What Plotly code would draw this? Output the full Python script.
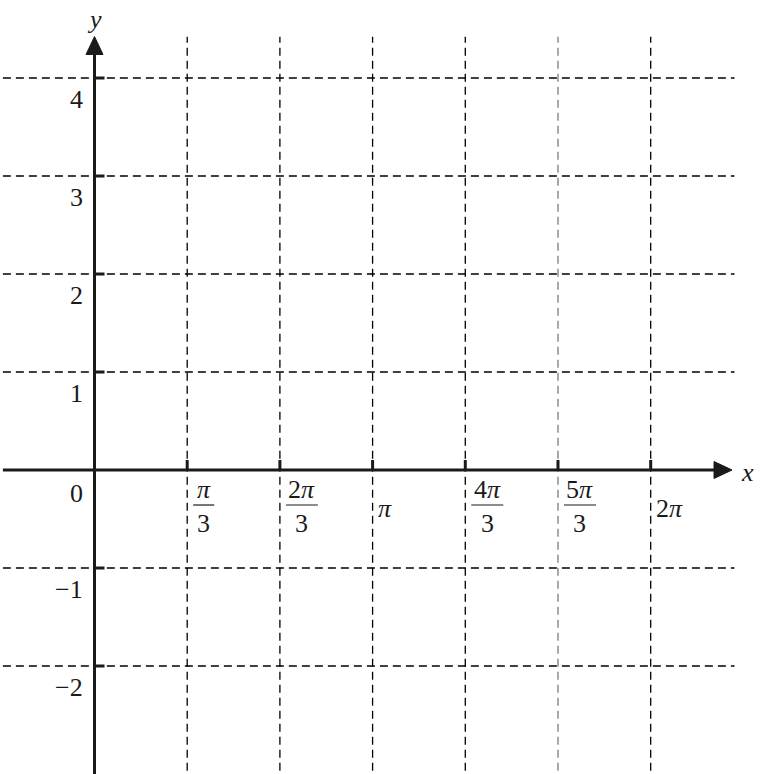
import math
import plotly.graph_objects as go

# ---------------------------------------------------------------
# data: tick positions and labels
# ---------------------------------------------------------------
X_TICKS = [math.pi / 3, 2 * math.pi / 3, math.pi, 4 * math.pi / 3, 5 * math.pi / 3, 2 * math.pi]
X_NUMER = ["<i>π</i>", "2<i>π</i>", "<i>π</i>", "4<i>π</i>", "5<i>π</i>", "2<i>π</i>"]
X_DENOM = ["3", "3", None, "3", "3", None]
X_GRID_COLOR = ["#000", "#000", "#000", "#000", "#7a7a7a", "#000"]

Y_TICKS = [-2, -1, 1, 2, 3, 4]
Y_LABELS = ["−2", "−1", "1", "2", "3", "4"]

X_RANGE = [-1.0675, 7.518]
Y_RANGE = [-3.102, 4.796]
X_LINE = [-1.035, 7.01]     # x axis / horizontal grid extent
Y_LINE = [-3.2, 4.25]       # y axis extent
GRID_X_END = 7.23
GRID_Y_TOP = 4.42

FONT = "Liberation Serif"
INK = "#1a1a1a"
DASH = dict(width=1.3, dash="8px,5px")

fig = go.Figure()
shapes = []
ann = []

# dashed grid
for v, c in zip(X_TICKS, X_GRID_COLOR):
    shapes.append(dict(type="line", x0=v, x1=v, y0=Y_RANGE[0] - 0.1, y1=GRID_Y_TOP,
                       line=dict(color=c, **DASH), layer="below"))
for v in Y_TICKS:
    shapes.append(dict(type="line", x0=X_LINE[0], x1=GRID_X_END, y0=v, y1=v,
                       line=dict(color="#000", **DASH), layer="below"))

# axes
shapes.append(dict(type="line", x0=X_LINE[0], x1=X_LINE[1], y0=0, y1=0,
                   line=dict(color=INK, width=3)))
shapes.append(dict(type="line", x0=0, x1=0, y0=Y_LINE[0], y1=Y_LINE[1],
                   line=dict(color=INK, width=3)))

# arrow heads
shapes.append(dict(type="path", xsizemode="pixel", ysizemode="pixel",
                   xanchor=X_LINE[1], yanchor=0,
                   path="M -1 8.5 L 17 0 L -1 -8.5 Z",
                   fillcolor=INK, line=dict(color=INK, width=1)))
shapes.append(dict(type="path", xsizemode="pixel", ysizemode="pixel",
                   xanchor=0, yanchor=Y_LINE[1],
                   path="M -8.5 -1 L 0 17 L 8.5 -1 Z",
                   fillcolor=INK, line=dict(color=INK, width=1)))

# tick marks
for v in X_TICKS:
    shapes.append(dict(type="line", xsizemode="pixel", ysizemode="pixel",
                       xanchor=v, yanchor=0, x0=0, x1=0, y0=0, y1=10,
                       line=dict(color=INK, width=3)))
for v in Y_TICKS:
    shapes.append(dict(type="line", xsizemode="pixel", ysizemode="pixel",
                       xanchor=0, yanchor=v, x0=0, x1=10, y0=0, y1=0,
                       line=dict(color=INK, width=3)))

# y labels
for v, t in zip(Y_TICKS + [0], Y_LABELS + ["0"]):
    ann.append(dict(x=0, y=v, text=t, showarrow=False, xanchor="right", yanchor="middle",
                    xshift=-10, yshift=-21 if v else -23))

# x labels
for v, n, d in zip(X_TICKS, X_NUMER, X_DENOM):
    wide = len(n) > len("<i>π</i>")
    if d is None:
        ann.append(dict(x=v, y=0, text=n, showarrow=False, xanchor="left", yanchor="middle",
                        xshift=3, yshift=-38))
        continue
    w = 32 if wide else 21
    cx = 6 + w / 2
    ann.append(dict(x=v, y=0, text=n, showarrow=False, xanchor="center", yanchor="middle",
                    xshift=cx, yshift=-19))
    ann.append(dict(x=v, y=0, text=d, showarrow=False, xanchor="center", yanchor="middle",
                    xshift=cx, yshift=-53))
    shapes.append(dict(type="line", xsizemode="pixel", ysizemode="pixel",
                       xanchor=v, yanchor=0, x0=6, x1=6 + w, y0=-35, y1=-35,
                       line=dict(color=INK, width=1.2)))

# axis names
ann.append(dict(x=0, y=Y_LINE[1], text="<i>y</i>", showarrow=False, xanchor="center",
                yanchor="middle", yshift=34))
ann.append(dict(x=X_LINE[1], y=0, text="<i>x</i>", showarrow=False, xanchor="center",
                yanchor="middle", xshift=32, yshift=-2))

fig.update_layout(
    width=760, height=774,
    margin=dict(l=0, r=0, t=0, b=0),
    paper_bgcolor="white", plot_bgcolor="white",
    showlegend=False,
    font=dict(family=FONT, size=26, color=INK),
    xaxis=dict(range=X_RANGE, visible=False, fixedrange=True),
    yaxis=dict(range=Y_RANGE, visible=False, fixedrange=True),
    shapes=shapes,
    annotations=ann,
)

# page body has a default 8px margin, drop it so the chart sits at 0,0
fig.write_html("out.html", config={"displayModeBar": False},
               post_script="document.body.style.margin = '0px';")
